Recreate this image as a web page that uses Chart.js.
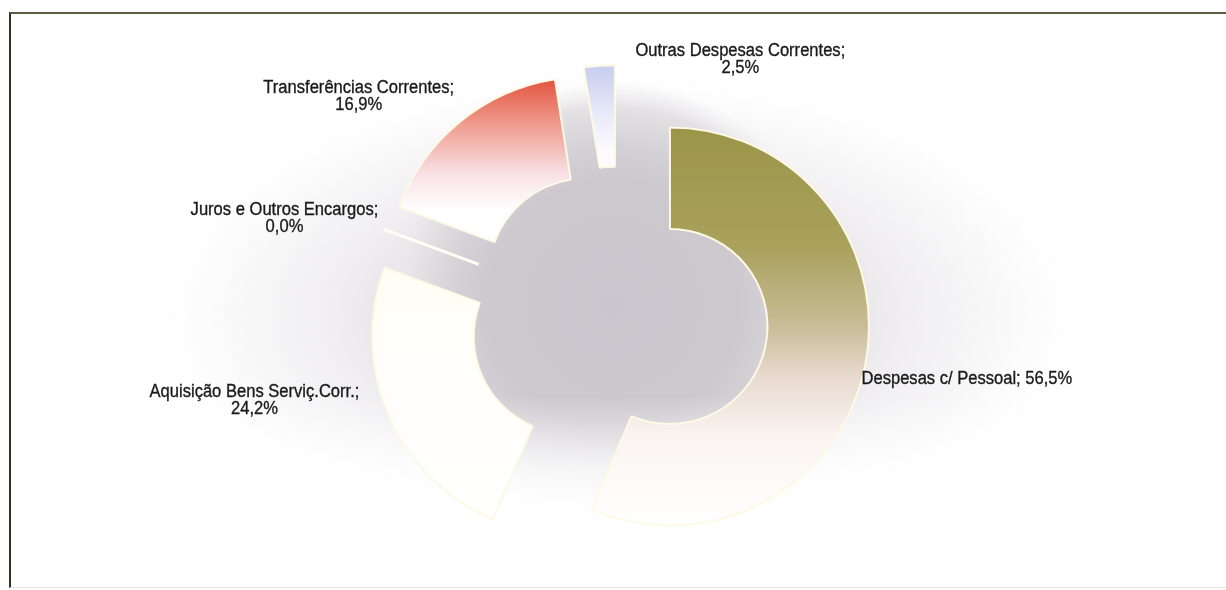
<!DOCTYPE html>
<html lang="pt">
<head>
<meta charset="utf-8">
<title>Despesas Correntes</title>
<script src="https://cdn.jsdelivr.net/npm/chart.js@4.4.1/dist/chart.umd.min.js"></script>
<style>
  html, body { margin: 0; padding: 0; background: #fff; }
  #wrap { position: relative; width: 1226px; height: 590px; overflow: hidden; }
  #frame {
    position: absolute; left: 9px; top: 12px; width: 1240px; height: 576px;
    box-sizing: border-box; z-index: 2; pointer-events: none;
    border-top: 2px solid #5e5c42;
    border-left: 2px solid #37321f;
    border-bottom: 1px solid #ebe7d8;
  }
  #chart { position: absolute; left: 0; top: 0; z-index: 1; }
</style>
</head>
<body>
<div id="wrap">
  <div id="frame"></div>
  <canvas id="chart" width="1226" height="590"></canvas>
</div>
<script>
// share of current expenses, in percent
const categories = [
  'Despesas c/ Pessoal',
  'Aquisição Bens Serviç.Corr.',
  'Juros e Outros Encargos',
  'Transferências Correntes',
  'Outras Despesas Correntes'
];
const shares = [56.5, 24.2, 0.0, 16.9, 2.5];

// how far each slice is pulled out of the ring, px
const EXPLODE = 52;

// label placement: shift of the text block from the point just outside the slice
const labelNudge = [[102, 11], [-134, -16], [-99, -12], [-101, -27], [141, -8]];
const labelOneLine = [true, false, false, false, false];
const LINE_H = 17;
const CAP_H = 13;
const TEXT_SQUEEZE = 0.92;

// vertical gradient stops per slice, as fractions of the ring's height
const fills = [
  [[0, '#9b9549'], [0.3, '#a9a15c'], [0.5, '#c7bd98'], [0.63, '#e9dbd1'], [0.78, '#fbf5f2'], [1, '#ffffff']],
  [[0, '#fffdf4'], [0.35, '#fffdf4'], [0.6, '#fffefb'], [1, '#ffffff']],
  [[0, '#ffffff'], [1, '#ffffff']],
  [[0, '#e24f3a'], [0.13, '#f0a194'], [0.25, '#f9e3e8'], [0.34, '#ffffff'], [1, '#ffffff']],
  [[0, '#c6cdee'], [0.12, '#e6e9f8'], [0.22, '#fcfcfe'], [1, '#ffffff']]
];

function sliceFill(context) {
  const chart = context.chart;
  const area = chart.chartArea;
  if (!area) return '#ffffff';
  const cy = (area.top + area.bottom) / 2;
  const r = Math.min(area.width, area.height) / 2;
  const g = chart.ctx.createLinearGradient(0, cy - r, 0, cy + r);
  fills[context.dataIndex].forEach(([at, c]) => g.addColorStop(at, c));
  return g;
}

// soft grey shadow behind the ring, fading out towards the bottom
const hazePlugin = {
  id: 'haze',
  beforeDatasetsDraw(chart) {
    const arc = chart.getDatasetMeta(0).data[0];
    if (!arc) return;
    const { x, y, outerRadius: r } = arc;
    const ctx = chart.ctx;

    ctx.save();
    ctx.translate(x, y);
    ctx.scale(1.9, 1);
    let g = ctx.createRadialGradient(0, 0, 0, 0, 0, r * 1.3);
    g.addColorStop(0, 'rgba(222,220,224,1)');
    g.addColorStop(0.5, 'rgba(230,228,231,0.85)');
    g.addColorStop(0.75, 'rgba(242,240,242,0.55)');
    g.addColorStop(1, 'rgba(255,255,255,0)');
    ctx.fillStyle = g;
    ctx.beginPath();
    ctx.arc(0, 0, r * 1.3, 0, Math.PI * 2);
    ctx.fill();
    ctx.restore();

    ctx.save();
    const sx = x - 6, sy = y - 12;
    g = ctx.createRadialGradient(sx, sy, 0, sx, sy, r * 1.12);
    g.addColorStop(0, '#cac6cd');
    g.addColorStop(0.55, '#ccc8ce');
    g.addColorStop(0.7, '#d4d1d6');
    g.addColorStop(0.88, '#e3e1e4');
    g.addColorStop(1, 'rgba(236,234,236,0)');
    ctx.fillStyle = g;
    ctx.beginPath();
    ctx.arc(sx, sy, r * 1.12, 0, Math.PI * 2);
    ctx.fill();
    ctx.restore();

    ctx.save();
    g = ctx.createLinearGradient(0, y + r * 0.4, 0, y + r * 1.0);
    g.addColorStop(0, 'rgba(255,255,255,0)');
    g.addColorStop(0.6, 'rgba(255,255,255,0.75)');
    g.addColorStop(1, 'rgba(255,255,255,1)');
    ctx.fillStyle = g;
    ctx.fillRect(x - r * 2.6, y + r * 0.4, r * 5.2, r * 1.4);
    ctx.restore();
  }
};

// draws every slice pushed out along its middle angle
const explodePlugin = {
  id: 'explode',
  beforeDatasetDraw(chart, args) {
    const ctx = chart.ctx;
    args.meta.data.forEach(arc => {
      const mid = (arc.startAngle + arc.endAngle) / 2;
      ctx.save();
      ctx.translate(Math.cos(mid) * EXPLODE, Math.sin(mid) * EXPLODE);
      if (arc.circumference === 0) {
        // an empty slice still shows as a seam
        const o = arc.options;
        const a = arc.startAngle;
        ctx.strokeStyle = '#fffef4';
        ctx.lineWidth = o.borderWidth + 1;
        ctx.beginPath();
        ctx.moveTo(arc.x + Math.cos(a) * arc.innerRadius, arc.y + Math.sin(a) * arc.innerRadius);
        ctx.lineTo(arc.x + Math.cos(a) * arc.outerRadius, arc.y + Math.sin(a) * arc.outerRadius);
        ctx.stroke();
      } else {
        arc.draw(ctx);
      }
      ctx.restore();
    });
    return false;
  }
};

const labelPlugin = {
  id: 'sliceLabels',
  afterDatasetsDraw(chart) {
    const ctx = chart.ctx;
    const meta = chart.getDatasetMeta(0);
    ctx.save();
    ctx.font = '18px "Liberation Sans", Arial, sans-serif';
    ctx.fillStyle = '#1a1a1a';
    ctx.strokeStyle = '#1a1a1a';
    ctx.lineWidth = 0.35;
    ctx.textAlign = 'center';
    ctx.textBaseline = 'alphabetic';
    meta.data.forEach((arc, i) => {
      const mid = (arc.startAngle + arc.endAngle) / 2;
      const reach = arc.outerRadius + EXPLODE;
      const bx = arc.x + Math.cos(mid) * reach + labelNudge[i][0];
      const by = arc.y + Math.sin(mid) * reach + labelNudge[i][1];
      const pct = shares[i].toFixed(1).replace('.', ',') + '%';
      const lines = labelOneLine[i] ? [categories[i] + '; ' + pct] : [categories[i] + ';', pct];
      lines.forEach((line, k) => {
        const base = by - (lines.length - 1) * LINE_H / 2 + k * LINE_H + CAP_H / 2;
        ctx.save();
        ctx.translate(bx, base);
        ctx.scale(TEXT_SQUEEZE, 1);
        ctx.fillText(line, 0, 0);
        ctx.strokeText(line, 0, 0);
        ctx.restore();
      });
    });
    ctx.restore();
  }
};

new Chart(document.getElementById('chart'), {
  type: 'doughnut',
  data: {
    labels: categories,
    datasets: [{
      data: shares,
      backgroundColor: sliceFill,
      borderColor: '#fdf9e4',
      borderWidth: 2,
      offset: 0
    }]
  },
  options: {
    responsive: false,
    animation: false,
    devicePixelRatio: 1,
    events: [],
    cutout: '49%',
    layout: { padding: { top: 116, bottom: 74, left: 12, right: 0 } },
    plugins: {
      legend: { display: false },
      tooltip: { enabled: false }
    }
  },
  plugins: [hazePlugin, explodePlugin, labelPlugin]
});
</script>
</body>
</html>
